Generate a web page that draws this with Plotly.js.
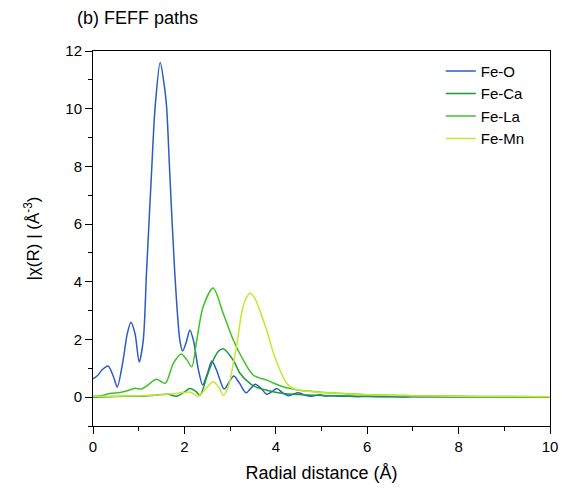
<!DOCTYPE html>
<html>
<head>
<meta charset="utf-8">
<script src="https://cdn.plot.ly/plotly-3.0.1.min.js"></script>
<style>html,body{margin:0;padding:0;background:#fff;}#chart{width:571px;height:490px;}</style>
</head>
<body>
<div id="chart"></div>
<script>
// Fe-O path
const feO_x = [0, 0.1, 0.2, 0.33, 0.45, 0.53, 0.65, 0.75, 0.83, 0.92, 1.01, 1.1, 1.17, 1.28, 1.36, 1.47, 1.56, 1.61, 1.68, 1.79, 1.9, 1.96, 2.04, 2.12, 2.2, 2.3, 2.4, 2.5, 2.6, 2.7, 2.87, 2.97, 3.08, 3.2, 3.35, 3.45, 3.55, 3.68, 3.8, 3.92, 4.02, 4.15, 4.27, 4.38, 4.49, 4.62, 4.75, 4.87, 4.97, 5.1, 5.25, 5.4, 5.55, 5.7, 6, 6.5, 7, 8, 9, 10];
const feO_y = [0.63, 0.75, 0.95, 1.08, 0.7, 0.35, 1.2, 2.2, 2.6, 2.2, 1.22, 1.98, 4.29, 7.76, 10.07, 11.6, 10.8, 10.07, 7.76, 4.29, 1.98, 1.6, 1.9, 2.33, 1.95, 1.0, 0.42, 0.8, 1.25, 0.95, 0.28, 0.5, 0.73, 0.5, 0.15, 0.3, 0.45, 0.3, 0.1, 0.2, 0.3, 0.15, 0.05, 0.1, 0.15, 0.08, 0.03, 0.06, 0.08, 0.04, 0.05, 0.03, 0.04, 0.02, 0.02, 0.01, 0.01, 0.01, 0.01, 0.01];
// Fe-Ca path
const feCa_x = [0, 0.5, 1.0, 1.3, 1.5, 1.65, 1.83, 2.0, 2.12, 2.25, 2.34, 2.5, 2.63, 2.75, 2.85, 3.07, 3.22, 3.44, 3.6, 3.8, 4.16, 4.5, 5, 5.5, 6, 7, 8, 10];
const feCa_y = [0.0, 0.02, 0.04, 0.06, 0.09, 0.1, 0.03, 0.18, 0.3, 0.2, 0.06, 0.75, 1.28, 1.6, 1.68, 1.28, 0.82, 0.47, 0.33, 0.24, 0.13, 0.09, 0.06, 0.04, 0.03, 0.02, 0.01, 0.005];
// Fe-La path
const feLa_x = [0, 0.2, 0.37, 0.6, 0.75, 0.92, 1.06, 1.2, 1.39, 1.58, 1.76, 1.93, 2.05, 2.16, 2.27, 2.41, 2.63, 2.85, 3.07, 3.29, 3.51, 3.8, 4.16, 4.53, 5.0, 5.4, 6, 7, 8, 9, 10];
const feLa_y = [0.03, 0.06, 0.13, 0.16, 0.22, 0.31, 0.28, 0.42, 0.62, 0.48, 1.18, 1.5, 1.3, 1.05, 1.98, 3.13, 3.78, 2.9, 1.98, 1.28, 0.76, 0.59, 0.36, 0.24, 0.17, 0.13, 0.08, 0.05, 0.03, 0.02, 0.01];
// Fe-Mn path
const feMn_x = [0, 0.5, 1.0, 1.5, 1.8, 2.0, 2.12, 2.3, 2.5, 2.63, 2.75, 2.85, 2.93, 3.0, 3.07, 3.14, 3.25, 3.33, 3.44, 3.55, 3.65, 3.8, 3.95, 4.09, 4.24, 4.38, 4.6, 5.0, 5.5, 6, 7, 8, 9, 10];
const feMn_y = [0.02, 0.03, 0.05, 0.08, 0.13, 0.16, 0.18, 0.03, 0.35, 0.53, 0.35, 0.07, 0.24, 0.59, 1.17, 1.74, 2.9, 3.36, 3.6, 3.4, 3.0, 2.32, 1.52, 0.94, 0.47, 0.3, 0.22, 0.16, 0.12, 0.08, 0.05, 0.03, 0.02, 0.01];

const names = ['Fe-O', 'Fe-Ca', 'Fe-La', 'Fe-Mn'];
const colors = ['#2b5cc4', '#1a9a38', '#3cc424', '#c4e82e'];
const xs = [feO_x, feCa_x, feLa_x, feMn_x];
const ys = [feO_y, feCa_y, feLa_y, feMn_y];

const traces = names.map((n, i) => ({
  x: xs[i], y: ys[i], name: n, type: 'scatter', mode: 'lines',
  line: {color: colors[i], width: 1.5, shape: 'spline', smoothing: 0.8}
}));

const font = {family: 'Liberation Sans, Arial, sans-serif', color: '#000'};
const axisCommon = {
  showline: true, mirror: true, linecolor: '#000', linewidth: 1,
  ticks: 'outside', ticklen: 7, tickwidth: 1, tickcolor: '#000',
  showgrid: false, zeroline: false,
  tickfont: {family: font.family, size: 15, color: '#000'}
};

const layout = {
  width: 571, height: 490,
  margin: {l: 93, r: 21, t: 51, b: 64},
  paper_bgcolor: '#fff', plot_bgcolor: '#fff',
  font: font,
  title: {text: '(b) FEFF paths', font: {family: font.family, size: 18, color: '#000'},
          x: 0.135, xanchor: 'left', xref: 'container', y: 0.963, yanchor: 'middle', yref: 'container'},
  xaxis: Object.assign({}, axisCommon, {
    range: [0, 10], dtick: 2, tick0: 0,
    minor: {dtick: 1, ticks: 'outside', ticklen: 4, tickcolor: '#000'},
    title: {text: 'Radial distance (Å)', font: {family: font.family, size: 18, color: '#000'}, standoff: 12}
  }),
  yaxis: Object.assign({}, axisCommon, {
    range: [-1, 12], dtick: 2, tick0: 0,
    minor: {dtick: 1, ticks: 'outside', ticklen: 4, tickcolor: '#000'},
    title: {text: '|χ(R) | (Å<sup>-3</sup>)', font: {family: font.family, size: 17, color: '#000'}, standoff: 21}
  }),
  legend: {x: 0.761, xanchor: 'left', y: 0.99, yanchor: 'top', bgcolor: 'rgba(0,0,0,0)',
           font: {family: font.family, size: 15, color: '#000'}, tracegroupgap: 0},
  showlegend: true
};

Plotly.newPlot('chart', traces, layout, {displayModeBar: false, staticPlot: true});
</script>
</body>
</html>
